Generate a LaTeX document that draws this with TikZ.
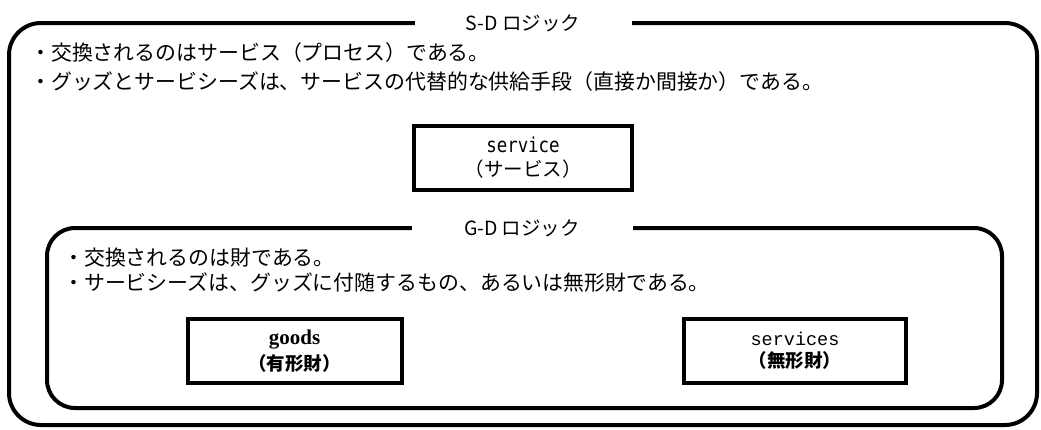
\documentclass[tikz,border=0pt]{standalone}
\usepackage{fontspec}
\setmainfont{Noto Sans CJK JP}
\newfontfamily\jpfont{Noto Sans CJK JP}
\newfontfamily\sansmono[FakeStretch=0.85]{DejaVu Sans Mono}
\newfontfamily\courfont{Liberation Mono}
\newfontfamily\serfont{Liberation Serif}
\begin{document}
\begin{tikzpicture}[x=1pt,y=-1pt,
  frame/.style={draw=black,line width=4pt,rounded corners=32pt},
  ttl/.style={fill=white,inner sep=0pt,minimum height=14pt,font=\jpfont\fontsize{19.5}{21}\selectfont},
  body/.style={anchor=west,inner sep=0pt,font=\jpfont\fontsize{20.9}{24}\selectfont},
  box/.style={draw=black,line width=4pt,inner sep=0pt,align=center,minimum height=64pt}
]
\useasboundingbox (0,0) rectangle (1041,429);
% outer S-D frame
\draw[frame] (9,23) rectangle (1037,425);
\node[ttl,minimum width=217pt] (sd) at (523,23) {S-D ロジック};
\node[body] (s1) at (30,53) {・交換されるのはサービス（プロセス）である。};
\node[body] (s2) at (30,82) {・グッズとサービシーズは、サービスの代替的な供給手段（直接か間接か）である。};
\node[box,minimum width=218pt] (svc) at (523,157.5)
  {{\sansmono\fontsize{20.5}{20}\selectfont service}\\[6pt]{\jpfont\fontsize{19.5}{20}\selectfont （サービス）}};
% inner G-D frame
\draw[frame,rounded corners=28pt] (47,228) rectangle (1002,408);
\node[ttl,minimum width=221pt] (gd) at (522,228) {G-D ロジック};
\node[body] (g1) at (63,258) {・交換されるのは財である。};
\node[body] (g2) at (63,283) {・サービシーズは、グッズに付随するもの、あるいは無形財である。};
\node[box,minimum width=214pt] (gds) at (294.5,351)
  {{\serfont\bfseries\fontsize{21}{20}\selectfont goods}\\[5pt]{\jpfont\bfseries\fontsize{18.5}{20}\selectfont （有形財）}};
\node[box,minimum width=222pt] (svs) at (795,351)
  {{\courfont\fontsize{18.5}{20}\selectfont services}\\[5pt]{\jpfont\bfseries\fontsize{18.5}{20}\selectfont （無形財）}};
\end{tikzpicture}
\end{document}
